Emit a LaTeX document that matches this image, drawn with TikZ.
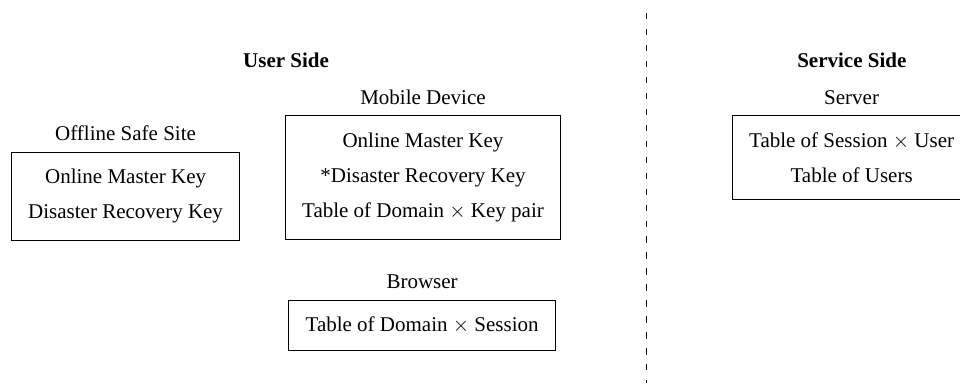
\documentclass[tikz,border=0pt]{standalone}
\usepackage{amsmath}
\usepackage{fontspec}
\setmainfont{Liberation Serif}
\usetikzlibrary{positioning}

\tikzset{
    storebox/.style={draw,align=center,inner sep=8pt},
    sidetitle/.style={font=\bfseries},
    divider/.style={draw,dash pattern=on 3pt off 4.6pt}
}

\begin{document}
\begin{tikzpicture}[x=1pt,y=1pt]
    \clip (0,0) rectangle (457.1,-182.4);

    % user side
    \node[sidetitle] (userside) at (136.2,-28.6) {User Side};
    \node[storebox] (offline) at (59.8,-93.3) {Online Master Key\\[4.8pt]Disaster Recovery Key};
    \node[above=1.5pt of offline] (offlinename) {Offline Safe Site};
    \node[storebox] (mobile) at (201.4,-84.5) {Online Master Key\\[4.8pt]*Disaster Recovery Key\\[4.8pt]Table of Domain $\times$ Key pair};
    \node[above=1.5pt of mobile] (mobilename) {Mobile Device};
    \node[storebox] (browser) at (201,-154.8) {Table of Domain $\times$ Session};
    \node[above=1.5pt of browser] (browsername) {Browser};

    % split between the two sides
    \coordinate (divtop) at (307.6,-6.2);
    \coordinate (divbot) at (307.6,-182.4);
    \draw[divider] (divtop) -- (divbot);

    % service side
    \node[sidetitle] (serviceside) at (405.6,-28.6) {Service Side};
    \node[storebox] (server) at (405.5,-75) {Table of Session $\times$ User\\[4.8pt]Table of Users};
    \node[above=1.5pt of server] (servername) {Server};
\end{tikzpicture}
\end{document}
